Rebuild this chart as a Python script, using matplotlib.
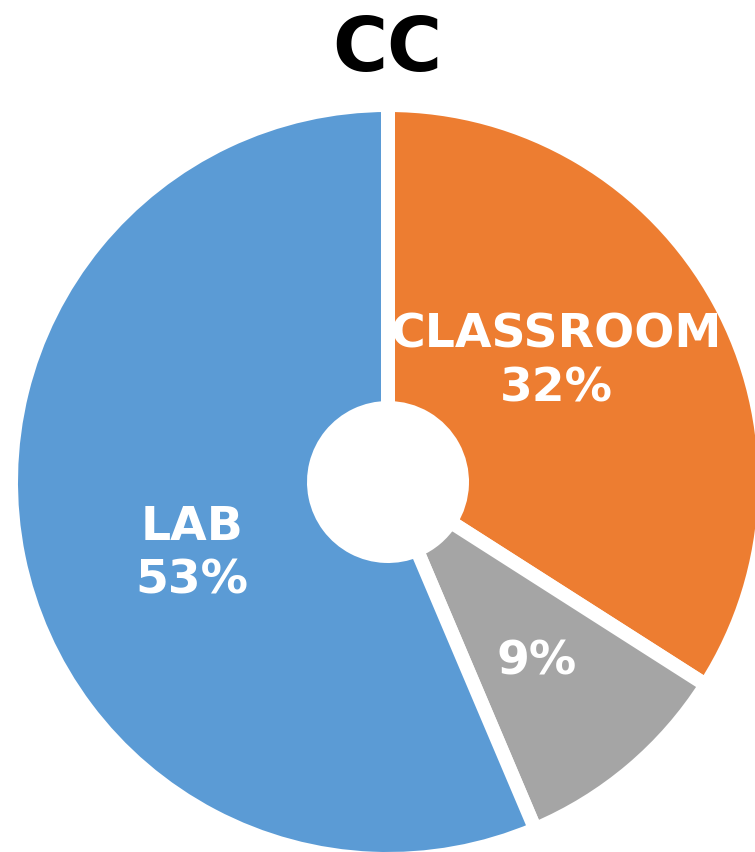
import matplotlib
matplotlib.use('Agg')
import matplotlib.pyplot as plt

### data ###
title = 'CC'
categories = ['CLASSROOM', '', 'LAB']
values = [32, 9, 53]
colors = ['#ED7D31', '#A5A5A5', '#5B9BD5']

W, H = 755, 852
fig = plt.figure(figsize=(W / 100, H / 100), dpi=100)
ax = fig.add_axes([0, 0, 1, 1])

# donut with white gaps between the slices
cx, cy = 388, H - 482
gap = 14  # px
ax.pie(values, colors=colors, startangle=90, counterclock=False,
       center=(cx, cy), radius=370 + gap / 2, frame=True,
       wedgeprops=dict(width=370 - 81 + gap, edgecolor='white',
                       linewidth=gap * 0.72))
ax.set_xlim(0, W)
ax.set_ylim(0, H)
ax.set_aspect('equal')
ax.axis('off')

# labels
lbl_pos = [(556, H - 362), (537, H - 662), (192, H - 554)]
for cat, v, (x, y) in zip(categories, values, lbl_pos):
    txt = f'{cat}\n{v}%' if cat else f'{v}%'
    ax.text(x, y, txt, ha='center', va='center', color='white',
            fontsize=34, fontweight='bold', linespacing=1.25)

fig.text(387 / W, 1 - 50 / H, title, ha='center', va='center',
         fontsize=54, fontweight='bold', color='black')

plt.savefig('out.png', dpi=100)
